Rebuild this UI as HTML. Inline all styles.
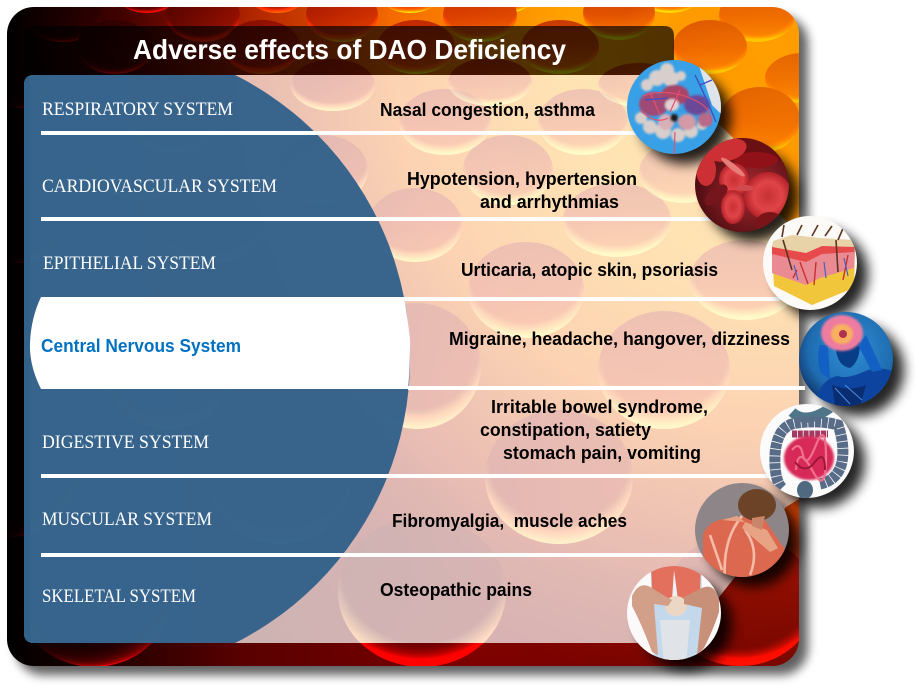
<!DOCTYPE html>
<html><head><meta charset="utf-8"><title>Adverse effects of DAO Deficiency</title>
<style>
html,body{margin:0;padding:0;background:#fff}
svg{display:block}
.s{font-family:"Liberation Serif",serif;font-size:19px;fill:#fff}
.b{font-family:"Liberation Sans",sans-serif;font-size:18px;font-weight:bold;fill:#000;white-space:pre}
</style></head><body>
<svg width="916" height="688" viewBox="0 0 916 688" xmlns="http://www.w3.org/2000/svg">
<defs>
<linearGradient id="base" x1="0" x2="1" y1="0" y2="0"><stop offset="0" stop-color="#000"/><stop offset=".12" stop-color="#200000"/><stop offset=".3" stop-color="#5a0000"/><stop offset=".6" stop-color="#7a0000"/><stop offset="1" stop-color="#600000"/></linearGradient>
<radialGradient id="hot" gradientUnits="userSpaceOnUse" cx="770" cy="50" r="760"><stop offset="0" stop-color="#ffb400"/><stop offset=".28" stop-color="#ffa000"/><stop offset=".5" stop-color="#f56a00"/><stop offset=".68" stop-color="#c83000" stop-opacity=".8"/><stop offset=".85" stop-color="#900800" stop-opacity=".25"/><stop offset="1" stop-color="#800000" stop-opacity="0"/></radialGradient>
<radialGradient id="hot2" gradientUnits="userSpaceOnUse" cx="790" cy="90" r="180"><stop offset="0" stop-color="#ff8c00" stop-opacity=".55"/><stop offset=".7" stop-color="#ff8000" stop-opacity=".4"/><stop offset="1" stop-color="#ff8000" stop-opacity="0"/></radialGradient>
<linearGradient id="mul" x1="0" x2="0" y1="0" y2="1"><stop offset="0" stop-color="#c85c4c"/><stop offset=".55" stop-color="#e48264"/><stop offset=".9" stop-color="#f8b890"/><stop offset="1" stop-color="#fff8e0"/></linearGradient>
<radialGradient id="rim" cx=".5" cy=".36" r=".66"><stop offset="0" stop-color="#000"/><stop offset=".76" stop-color="#000"/><stop offset=".96" stop-color="#d8a000"/><stop offset="1" stop-color="#ffd800"/></radialGradient>
<radialGradient id="rimy" cx=".5" cy=".36" r=".66"><stop offset="0" stop-color="#ffe860" stop-opacity="0"/><stop offset=".72" stop-color="#ffe860" stop-opacity="0"/><stop offset=".96" stop-color="#ffe860" stop-opacity=".85"/><stop offset="1" stop-color="#ffe860" stop-opacity="1"/></radialGradient>
<clipPath id="card"><rect x="7" y="7" width="792" height="659" rx="27"/></clipPath>
<clipPath id="panel"><path d="M34 75H674L690 100L718 123L735 140L778 213L799 235V499L786 507L735 577L720 596L690 643H34Q24 643 24 633V85Q24 75 34 75Z"/></clipPath>
<clipPath id="c1"><circle cx="674" cy="107" r="47"/></clipPath>
<clipPath id="c2"><circle cx="742" cy="185" r="47"/></clipPath>
<clipPath id="c3"><circle cx="810" cy="263" r="47"/></clipPath>
<clipPath id="c4"><circle cx="846" cy="359" r="47"/></clipPath>
<clipPath id="c5"><circle cx="807" cy="451" r="47"/></clipPath>
<clipPath id="c6"><circle cx="742" cy="530" r="47"/></clipPath>
<clipPath id="c7"><circle cx="674" cy="613" r="47"/></clipPath>
<filter id="bl6" x="-30%" y="-30%" width="160%" height="160%"><feGaussianBlur stdDeviation="6"/></filter>
<filter id="bl4" x="-10%" y="-10%" width="120%" height="120%"><feGaussianBlur stdDeviation="5"/></filter>
<filter id="bl1" x="-20%" y="-20%" width="140%" height="140%"><feGaussianBlur stdDeviation="1"/></filter>
<radialGradient id="blue4" cx=".55" cy=".4" r=".6"><stop offset="0" stop-color="#2f8fd8"/><stop offset=".75" stop-color="#1f6cb0"/><stop offset="1" stop-color="#123f78"/></radialGradient>
<radialGradient id="red2" cx=".6" cy=".55" r=".6"><stop offset="0" stop-color="#a82a30"/><stop offset="1" stop-color="#4e0d12"/></radialGradient>
<radialGradient id="cell" cx=".5" cy=".5" r=".5"><stop offset="0" stop-color="#c83034"/><stop offset=".6" stop-color="#e04448"/><stop offset="1" stop-color="#b02228"/></radialGradient>
<g id="bub">
<ellipse cx="147" cy="-5" rx="30" ry="18"/><ellipse cx="277" cy="-5" rx="28" ry="18"/><ellipse cx="410" cy="-5" rx="30" ry="18"/><ellipse cx="505" cy="-5" rx="30" ry="18"/><ellipse cx="670" cy="-5" rx="30" ry="18"/>
<ellipse cx="63" cy="15" rx="38" ry="27"/><ellipse cx="203" cy="15" rx="37" ry="27"/><ellipse cx="342" cy="15" rx="36" ry="27"/><ellipse cx="480" cy="15" rx="37" ry="27"/><ellipse cx="619" cy="13" rx="36" ry="27"/><ellipse cx="757" cy="15" rx="38" ry="27"/>
<ellipse cx="115" cy="47" rx="38" ry="27"/><ellipse cx="262" cy="47" rx="38" ry="27"/><ellipse cx="416" cy="47" rx="39" ry="27"/><ellipse cx="560" cy="47" rx="39" ry="27"/><ellipse cx="710" cy="47" rx="37" ry="27"/>
<ellipse cx="333" cy="85" rx="42" ry="26"/><ellipse cx="490" cy="82" rx="42" ry="24"/><ellipse cx="640" cy="85" rx="42" ry="22"/><ellipse cx="803" cy="78" rx="38" ry="25"/><ellipse cx="20" cy="80" rx="32" ry="28"/>
<ellipse cx="175" cy="120" rx="45" ry="33"/><ellipse cx="445" cy="122" rx="46" ry="33"/><ellipse cx="583" cy="122" rx="45" ry="33"/><ellipse cx="760" cy="120" rx="40" ry="33"/>
<ellipse cx="323" cy="170" rx="45" ry="35"/><ellipse cx="508" cy="170" rx="45" ry="35"/><ellipse cx="683" cy="172" rx="44" ry="31"/>
<ellipse cx="140" cy="165" rx="50" ry="35"/><ellipse cx="415" cy="225" rx="47" ry="37"/><ellipse cx="617" cy="220" rx="54" ry="37"/><ellipse cx="210" cy="225" rx="55" ry="38"/>
<ellipse cx="20" cy="225" rx="40" ry="38"/><ellipse cx="526" cy="290" rx="58" ry="48"/><ellipse cx="745" cy="280" rx="55" ry="40"/>
<ellipse cx="168" cy="370" rx="65" ry="59"/><ellipse cx="417" cy="366" rx="64" ry="63"/><ellipse cx="664" cy="370" rx="66" ry="59"/>
<ellipse cx="10" cy="470" rx="68" ry="67"/><ellipse cx="280" cy="477" rx="72" ry="67"/><ellipse cx="559" cy="477" rx="74" ry="67"/>
<ellipse cx="94" cy="592" rx="79" ry="75"/><ellipse cx="422" cy="592" rx="84" ry="75"/><ellipse cx="740" cy="600" rx="75" ry="66"/>
</g>
</defs>

<rect x="7" y="7" width="792" height="659" rx="27" fill="#000" opacity=".62" transform="translate(9 9)" filter="url(#bl4)"/>
<g clip-path="url(#card)" style="isolation:isolate">
<rect x="7" y="7" width="792" height="659" fill="url(#base)"/>
<rect x="7" y="7" width="792" height="659" fill="url(#hot)"/>
<use href="#bub" fill="url(#mul)" style="mix-blend-mode:multiply"/>
<use href="#bub" fill="url(#rim)" style="mix-blend-mode:color-dodge"/>
<rect x="560" y="7" width="239" height="300" fill="url(#hot2)"/>
<g clip-path="url(#panel)"><use href="#bub" fill="url(#rimy)"/></g>
<path d="M24 75V36Q24 26 34 26H664Q674 26 674 36V75Z" fill="#000" opacity=".68"/>
<path d="M34 75H674L690 100L718 123L735 140L778 213L799 235V499L786 507L735 577L720 596L690 643H34Q24 643 24 633V85Q24 75 34 75Z" fill="#fff" opacity=".7"/>
<g clip-path="url(#panel)"><circle cx="92" cy="359" r="318" fill="#33618a" opacity=".97"/><rect x="0" y="75" width="30" height="568" fill="#33618a" opacity=".97"/></g>
</g>

<path d="M41 297H404Q411 340 410 345Q410 370 408 389H41Q29 365 30 343Q31 318 41 297Z" fill="#fff"/>
<g fill="#fff">
<rect x="41" y="131" width="600" height="4"/><rect x="41" y="217" width="680" height="4"/><rect x="404" y="297" width="376" height="4"/><rect x="408" y="386" width="397" height="4"/><rect x="41" y="474" width="730" height="4"/><rect x="41" y="553" width="665" height="4"/>
</g>

<text x="133" y="59" textLength="433" lengthAdjust="spacingAndGlyphs" style="font-family:'Liberation Sans',sans-serif;font-size:28px;font-weight:bold;fill:#fff">Adverse effects of DAO Deficiency</text>
<text class="s" x="42" y="115" textLength="191" lengthAdjust="spacingAndGlyphs">RESPIRATORY SYSTEM</text>
<text class="s" x="42" y="192" textLength="235" lengthAdjust="spacingAndGlyphs">CARDIOVASCULAR SYSTEM</text>
<text class="s" x="43" y="269" textLength="173" lengthAdjust="spacingAndGlyphs">EPITHELIAL SYSTEM</text>
<text x="41" y="352" textLength="200" lengthAdjust="spacingAndGlyphs" style="font-family:'Liberation Sans',sans-serif;font-size:18px;font-weight:bold;fill:#0070c0">Central Nervous System</text>
<text class="s" x="42" y="448" textLength="167" lengthAdjust="spacingAndGlyphs">DIGESTIVE SYSTEM</text>
<text class="s" x="42" y="525" textLength="170" lengthAdjust="spacingAndGlyphs">MUSCULAR SYSTEM</text>
<text class="s" x="42" y="602" textLength="154" lengthAdjust="spacingAndGlyphs">SKELETAL SYSTEM</text>

<text class="b" x="380" y="116" textLength="215" lengthAdjust="spacingAndGlyphs">Nasal congestion, asthma</text>
<text class="b" x="407" y="185" textLength="230" lengthAdjust="spacingAndGlyphs">Hypotension, hypertension</text>
<text class="b" x="480" y="208" textLength="139" lengthAdjust="spacingAndGlyphs">and arrhythmias</text>
<text class="b" x="461" y="276" textLength="257" lengthAdjust="spacingAndGlyphs">Urticaria, atopic skin, psoriasis</text>
<text class="b" x="449" y="345" textLength="341" lengthAdjust="spacingAndGlyphs">Migraine, headache, hangover, dizziness</text>
<text class="b" x="491" y="413" textLength="217" lengthAdjust="spacingAndGlyphs">Irritable bowel syndrome,</text>
<text class="b" x="480" y="436" textLength="171" lengthAdjust="spacingAndGlyphs">constipation, satiety</text>
<text class="b" x="503" y="459" textLength="198" lengthAdjust="spacingAndGlyphs">stomach pain, vomiting</text>
<text class="b" x="392" y="527" textLength="235" lengthAdjust="spacingAndGlyphs">Fibromyalgia,  muscle aches</text>
<text class="b" x="380" y="596" textLength="152" lengthAdjust="spacingAndGlyphs">Osteopathic pains</text>

<g fill="#000" opacity=".85" filter="url(#bl6)">
<circle cx="685" cy="118" r="46"/><circle cx="753" cy="196" r="46"/><circle cx="822" cy="274" r="46"/><circle cx="858" cy="370" r="46"/><circle cx="819" cy="462" r="46"/><circle cx="753" cy="541" r="46"/><circle cx="686" cy="624" r="46"/>
</g>

<!-- 1 lungs -->
<circle cx="674" cy="107" r="47" fill="#38a0e6"/>
<g clip-path="url(#c1)">
<path d="M697 60L725 60L725 118L712 105Z" fill="#dfe3ea"/>
<g filter="url(#bl1)" fill="#d8cfcc">
<circle cx="657" cy="78" r="8"/><circle cx="667" cy="70" r="7"/><circle cx="671" cy="79" r="8"/><circle cx="681" cy="76" r="5"/><circle cx="647" cy="85" r="6"/>
<circle cx="641" cy="118" r="6"/><circle cx="650" cy="127" r="7"/><circle cx="663" cy="131" r="8"/><circle cx="678" cy="135" r="7"/><circle cx="691" cy="131" r="7"/><circle cx="702" cy="125" r="5"/>
</g>
<g filter="url(#bl1)">
<ellipse cx="654" cy="104" rx="15" ry="12" fill="#a04a74"/><ellipse cx="675" cy="95" rx="14" ry="10" fill="#a84468"/><ellipse cx="697" cy="105" rx="13" ry="10" fill="#6c4a98"/>
<ellipse cx="666" cy="122" rx="8" ry="8" fill="#d8b0b8"/><ellipse cx="687" cy="122" rx="9" ry="8" fill="#d49aa6"/><ellipse cx="705" cy="120" rx="7" ry="7" fill="#b86a88"/><ellipse cx="672" cy="105" rx="7" ry="6" fill="#e4d0d4"/>
<circle cx="674" cy="118" r="4" fill="#1a1a1a"/>
</g>
<path d="M643 96Q665 88 690 98T710 125M640 110Q655 125 668 118M675 132L674 154M650 92L660 115M680 90L670 112" stroke="#e2506c" stroke-width="1.2" fill="none"/>
<path d="M695 75Q705 95 716 122M700 85L712 80M645 100L668 98" stroke="#4450c0" stroke-width="1.4" fill="none"/>
</g>

<!-- 2 blood -->
<circle cx="742" cy="185" r="47" fill="url(#red2)"/>
<g clip-path="url(#c2)">
<ellipse cx="756" cy="150" rx="30" ry="17" fill="#6a1014"/>
<ellipse cx="756" cy="160" rx="22" ry="8" fill="#901218"/>
<ellipse cx="727" cy="150" rx="20" ry="11" fill="#cc3034" transform="rotate(-15 727 150)"/>
<ellipse cx="706" cy="170" rx="10" ry="16" fill="#cc3034"/>
<ellipse cx="734" cy="180" rx="15" ry="17" fill="url(#cell)"/>
<ellipse cx="733" cy="167" rx="15" ry="3" fill="#e87c78" transform="rotate(38 733 167)"/>
<ellipse cx="768" cy="196" rx="24" ry="24" fill="url(#cell)" transform="rotate(-20 768 196)"/>
<ellipse cx="733" cy="207" rx="12" ry="17" fill="url(#cell)"/>
<ellipse cx="770" cy="223" rx="14" ry="11" fill="#7a1419"/>
<ellipse cx="716" cy="195" rx="14" ry="7" fill="#75161c" transform="rotate(-40 716 195)"/>
<ellipse cx="745" cy="188" rx="9" ry="3" fill="#d04a4e"/>
</g>

<!-- 3 skin -->
<circle cx="810" cy="263" r="47" fill="#fbfaf7"/>
<g clip-path="url(#c3)">
<path d="M772 251L806 259L822 248L855 250L854 288L812 305L774 286Z" fill="#f2c63a"/>
<path d="M772 250L806 258L822 246L855 249L854 268L820 278L806 285L772 273Z" fill="#ea8b93"/>
<path d="M772 246L806 252L822 241L855 244L854 252L822 254L806 262L772 254Z" fill="#e64a4a"/>
<path d="M773 241L792 235L820 238L854 240L855 247L822 246L806 253L772 247Z" fill="#e8d2a8"/>
<path d="M782 237L784 225M797 235L802 225M812 236L818 225M825 236L832 226M838 240L844 226M836 240L838 272M783 240L792 270" stroke="#5a3520" stroke-width="1.6" fill="none"/>
<path d="M800 262L808 284M816 262L814 285M848 255L843 280M797 270L793 278" stroke="#c83030" stroke-width="1.4" fill="none"/>
<path d="M794 265L798 280M824 262L826 278M844 258L848 276" stroke="#4a60c0" stroke-width="1.2" fill="none"/>
</g>

<!-- 4 brain head -->
<circle cx="846" cy="359" r="47" fill="url(#blue4)"/>
<g clip-path="url(#c4)">
<path d="M812 410Q820 378 838 376Q846 380 868 370Q880 366 895 372L898 410Z" fill="#0d44a0"/>
<path d="M832 385Q850 392 866 385L860 406H835Z" fill="#0a2c70"/>
<path d="M838 342H860Q860 362 850 368Q838 366 836 350Z" fill="#0a3d88"/>
<path d="M820 345Q816 358 820 372L830 380L828 345ZM866 335L882 370L872 372L858 345Z" fill="#1260c4"/>
<path d="M835 388L850 404M845 385L862 400" stroke="#4a90e0" stroke-width="1"/>
<ellipse cx="842" cy="333" rx="21" ry="18" fill="#ee7ca0" filter="url(#bl1)"/>
<ellipse cx="842" cy="334" rx="11" ry="10" fill="#f8b060" filter="url(#bl1)"/>
<circle cx="843" cy="334" r="4" fill="#b03050"/>
</g>

<!-- 5 intestine -->
<circle cx="807" cy="451" r="47" fill="#fbfbfc"/>
<g clip-path="url(#c5)">
<path d="M792 412Q806 425 830 408" stroke="#4f7688" stroke-width="10" fill="none"/>
<path d="M782 488Q774 480 775 455Q777 425 797 423Q820 420 838 425Q845 445 842 462Q838 480 820 484" stroke="#586c88" stroke-width="11" fill="none" stroke-dasharray="6 .8"/>
<path d="M792 434H828" stroke="#a43a62" stroke-width="7" stroke-dasharray="5 .8"/>
<ellipse cx="809" cy="458" rx="25" ry="22" fill="#d82a58" filter="url(#bl1)"/>
<path d="M792 450Q800 440 803 455T816 445T826 458T812 470T796 470" stroke="#f2708c" stroke-width="2.2" fill="none"/>
<path d="M795 462Q805 475 815 462T825 470" stroke="#9c1838" stroke-width="2" fill="none"/>
<ellipse cx="805" cy="490" rx="8" ry="9" fill="#4f6a80"/>
</g>

<!-- 6 muscle back -->
<circle cx="742" cy="530" r="47" fill="#8e8588"/>
<g clip-path="url(#c6)">
<path d="M703 580L703 535Q708 518 735 518Q755 516 765 520Q778 540 790 556L770 580Z" fill="#dc6850"/>
<path d="M742 516Q722 540 725 580M745 530Q760 550 750 575M710 535L722 570" stroke="#f4bca8" stroke-width="2.6" fill="none"/>
<path d="M722 520L737 516L745 522M745 522L767 530L778 548L770 552L742 528Z" fill="#e8a284"/>
<ellipse cx="757" cy="505" rx="19" ry="16" fill="#6c4326"/>
<path d="M752 518L765 516L762 530L752 526Z" fill="#c8856a"/>
</g>

<!-- 7 knee -->
<circle cx="674" cy="613" r="47" fill="#fbf9fa"/>
<g clip-path="url(#c7)">
<path d="M651 566H701L704 640L700 665H655L652 640Z" fill="#c4d8ec"/>
<path d="M651 566H701L700 590L688 600H664L652 590Z" fill="#e2705c"/>
<path d="M674 570L678 600L672 600Z" fill="#eef0f4"/>
<path d="M660 620L690 620L686 665H664Z" fill="#e0e4e8"/>
<ellipse cx="676" cy="606" rx="11" ry="10" fill="#ecd6c4"/>
<path d="M632 596Q640 578 655 590Q668 598 672 600L668 606L654 604L658 655L652 652Q642 625 632 606Z" fill="#d2a088"/>
<path d="M719 600Q714 580 698 590L684 597L684 604L702 608L697 655L704 648Q714 628 719 612Z" fill="#c89078"/>
</g>
</svg>
</body></html>
